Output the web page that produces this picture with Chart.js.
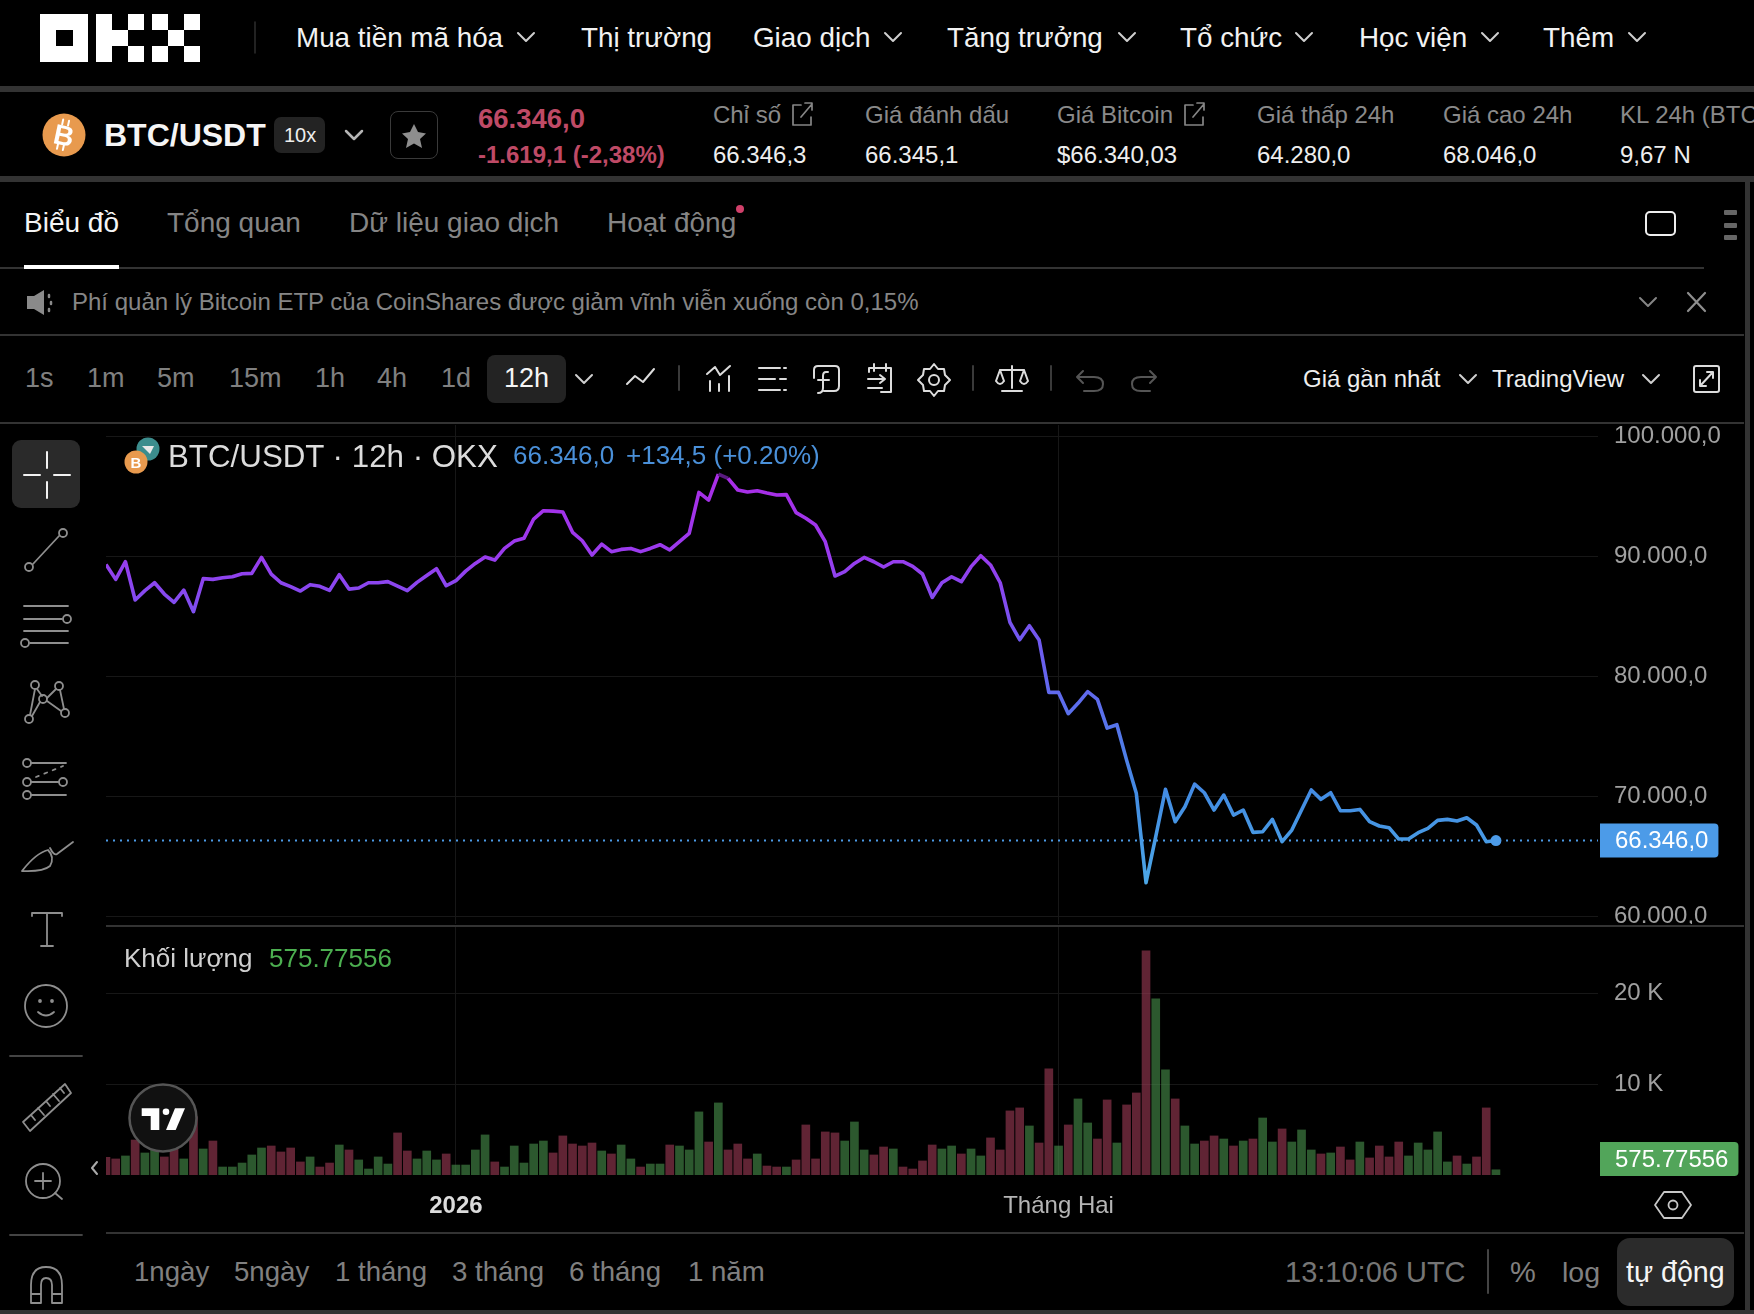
<!DOCTYPE html>
<html lang="vi">
<head>
<meta charset="utf-8">
<title>BTC/USDT</title>
<script src="https://cdn.jsdelivr.net/npm/chart.js@4/dist/chart.umd.min.js"></script>
<style>
  html, body { margin: 0; padding: 0; background: #000; }
  body { position: relative; width: 1754px; height: 1314px; overflow: hidden; font-family: "Liberation Sans", Arial, sans-serif; }
  .t { position: absolute; white-space: nowrap; transform: translateY(-50%); line-height: 1.2; }
  .bar { position: absolute; background: #333; }
  .chip { position: absolute; background: #232323; }
  canvas { position: absolute; }
  svg { position: absolute; left: 0; top: 0; }
  .nav { font-size: 27.8px; color: #f2f2f2; top: 38px; }
  .lbl { font-size: 24px; color: #8a8a8a; top: 115px; }
  .val { font-size: 24px; color: #eee; top: 155px; }
  .tab { font-size: 28px; color: #858585; top: 223px; }
  .res { font-size: 27px; color: #808080; top: 378px; }
  .rng { font-size: 27.6px; color: #808080; top: 1272px; }
</style>
</head>
<body>

<div class="bar" style="left:0;top:86px;width:1754px;height:6px"></div>
<div class="bar" style="left:0;top:176px;width:1754px;height:6px"></div>
<div class="bar" style="left:0;top:267px;width:1704px;height:2px"></div>
<div class="bar" style="left:0;top:334px;width:1744px;height:2px"></div>
<div class="bar" style="left:0;top:422px;width:1744px;height:2px"></div>
<div class="bar" style="left:106px;top:925px;width:1638px;height:2px"></div>
<div class="bar" style="left:106px;top:1232px;width:1638px;height:2px"></div>
<div class="bar" style="left:1745px;top:182px;width:5px;height:1132px"></div>
<div class="bar" style="left:0;top:1310px;width:1754px;height:4px"></div>

<span class="t nav" style="left:296px">Mua tiền mã hóa</span>
<span class="t nav" style="left:581px">Thị trường</span>
<span class="t nav" style="left:753px">Giao dịch</span>
<span class="t nav" style="left:947px">Tăng trưởng</span>
<span class="t nav" style="left:1180px">Tổ chức</span>
<span class="t nav" style="left:1359px">Học viện</span>
<span class="t nav" style="left:1543px">Thêm</span>

<span class="t" style="left:104px;top:135px;font-size:32px;font-weight:700;color:#f5f5f5">BTC/USDT</span>
<div class="chip" style="left:274px;top:117px;width:51px;height:36px;border-radius:7px"></div>
<span class="t" style="left:284px;top:135px;font-size:20px;color:#eee">10x</span>
<div style="position:absolute;left:390px;top:111px;width:46px;height:46px;border:1px solid #3a3a3a;border-radius:8px"></div>
<span class="t" style="left:478px;top:118px;font-size:27.5px;font-weight:700;color:#bf4a66">66.346,0</span>
<span class="t" style="left:478px;top:155px;font-size:24px;font-weight:700;color:#bf4a66">-1.619,1 (-2,38%)</span>

<span class="t lbl" style="left:713px">Chỉ số</span><span class="t val" style="left:713px">66.346,3</span>
<span class="t lbl" style="left:865px">Giá đánh dấu</span><span class="t val" style="left:865px">66.345,1</span>
<span class="t lbl" style="left:1057px">Giá Bitcoin</span><span class="t val" style="left:1057px">$66.340,03</span>
<span class="t lbl" style="left:1257px">Giá thấp 24h</span><span class="t val" style="left:1257px">64.280,0</span>
<span class="t lbl" style="left:1443px">Giá cao 24h</span><span class="t val" style="left:1443px">68.046,0</span>
<span class="t lbl" style="left:1620px">KL 24h (BTC)</span><span class="t val" style="left:1620px">9,67 N</span>

<span class="t tab" style="left:24px;color:#f5f5f5">Biểu đồ</span>
<span class="t tab" style="left:167px">Tổng quan</span>
<span class="t tab" style="left:349px">Dữ liệu giao dịch</span>
<span class="t tab" style="left:607px">Hoạt động</span>
<div style="position:absolute;left:24px;top:265px;width:95px;height:4px;background:#fff"></div>

<span class="t" style="left:72px;top:302px;font-size:24px;color:#868686">Phí quản lý Bitcoin ETP của CoinShares được giảm vĩnh viễn xuống còn 0,15%</span>

<span class="t res" style="left:25px">1s</span>
<span class="t res" style="left:87px">1m</span>
<span class="t res" style="left:157px">5m</span>
<span class="t res" style="left:229px">15m</span>
<span class="t res" style="left:315px">1h</span>
<span class="t res" style="left:377px">4h</span>
<span class="t res" style="left:441px">1d</span>
<div class="chip" style="left:487px;top:355px;width:79px;height:48px;border-radius:8px"></div>
<span class="t res" style="left:504px;color:#f5f5f5">12h</span>
<span class="t" style="left:1303px;top:379px;font-size:24px;color:#eee">Giá gần nhất</span>
<span class="t" style="left:1492px;top:379px;font-size:24px;color:#eee">TradingView</span>

<canvas id="priceChart" width="1638" height="499" style="left:106px;top:425px"></canvas>
<canvas id="volumeChart" width="1638" height="303" style="left:106px;top:927px"></canvas>

<span class="t" style="left:168px;top:457px;font-size:31.3px;color:#dcdcdc">BTC/USDT · 12h · OKX</span>
<span class="t" style="left:513px;top:456px;font-size:26px;color:#4a90d9">66.346,0</span>
<span class="t" style="left:626px;top:456px;font-size:26px;color:#4a90d9">+134,5 (+0.20%)</span>
<span class="t" style="left:124px;top:959px;font-size:26px;color:#cfcfcf">Khối lượng</span>
<span class="t" style="left:269px;top:959px;font-size:26px;color:#4caf50">575.77556</span>

<span class="t rng" style="left:134px">1ngày</span>
<span class="t rng" style="left:234px">5ngày</span>
<span class="t rng" style="left:335px">1 tháng</span>
<span class="t rng" style="left:452px">3 tháng</span>
<span class="t rng" style="left:569px">6 tháng</span>
<span class="t rng" style="left:688px">1 năm</span>
<span class="t" style="left:1285px;top:1272px;font-size:29px;color:#757575">13:10:06 UTC</span>
<span class="t" style="left:1510px;top:1272px;font-size:29px;color:#808080">%</span>
<span class="t" style="left:1562px;top:1272px;font-size:28.5px;color:#808080">log</span>
<div class="chip" style="left:1617px;top:1238px;width:117px;height:68px;border-radius:13px;background:#2b2b2b"></div>
<span class="t" style="left:1626px;top:1272px;font-size:28.6px;color:#f5f5f5">tự động</span>

<svg width="1754" height="1314" viewBox="0 0 1754 1314" fill="none" stroke-linecap="round" stroke-linejoin="round">
  <defs><path id="chev" d="M-8 -4 L0 4 L8 -4"/></defs>

  <!-- logo -->
  <g fill="#fff">
    <path fill-rule="evenodd" d="M40 14H88V62H40Z M56 30V46H73V30Z"/>
    <rect x="96" y="14" width="16" height="48"/><rect x="112" y="30" width="16" height="16"/>
    <rect x="128" y="14" width="16" height="16"/><rect x="128" y="46" width="16" height="16"/>
    <rect x="152" y="14" width="16" height="16"/><rect x="184" y="14" width="16" height="16"/>
    <rect x="168" y="30" width="16" height="16"/>
    <rect x="152" y="46" width="16" height="16"/><rect x="184" y="46" width="16" height="16"/>
  </g>
  <path d="M255 22V53" stroke="#2e2e2e" stroke-width="1.5"/>

  <!-- chevrons -->
  <g stroke="#cfcfcf" stroke-width="2">
    <use href="#chev" x="526" y="37"/><use href="#chev" x="893" y="37"/><use href="#chev" x="1127" y="37"/>
    <use href="#chev" x="1304" y="37"/><use href="#chev" x="1490" y="37"/><use href="#chev" x="1637" y="37"/>
    <use href="#chev" x="354" y="135" stroke="#b5b5b5" stroke-width="2.5"/>
    <use href="#chev" x="584" y="379"/><use href="#chev" x="1468" y="379"/><use href="#chev" x="1651" y="379"/>
    <use href="#chev" x="1648" y="302" stroke="#858585"/>
  </g>

  <!-- coin -->
  <circle cx="64" cy="135" r="21.5" fill="#e89a4e"/>
  <g transform="rotate(12 64 135)">
    <text x="64" y="145" font-size="28" font-weight="700" font-family="Liberation Sans" fill="#fff" text-anchor="middle">B</text>
    <path d="M60 120V125M66 120V125M60 145V150M66 145V150" stroke="#fff" stroke-width="2"/>
  </g>
  <path d="M414 124L418 132L426 133.500L420 139L422 148L414 143.500L406 148L408 139L402 133.500L410 132Z" fill="#8e8e8e"/>

  <!-- external link icons -->
  <g stroke="#858585" stroke-width="1.700">
    <path d="M801 105H793V125H811V117M801 117L812 104M805 103H812V110"/>
    <path d="M1193 105H1185V125H1203V117M1193 117L1204 104M1197 103H1204V110"/>
  </g>

  <!-- tab and announcement icons -->
  <circle cx="740" cy="209" r="4" fill="#d0406a"/>
  <rect x="1646" y="212" width="29" height="23" rx="4" stroke="#eee" stroke-width="2"/>
  <g fill="#666"><rect x="1724" y="210" width="13" height="5" rx="1"/><rect x="1724" y="223" width="13" height="5" rx="1"/><rect x="1724" y="235" width="13" height="5" rx="1"/></g>
  <path d="M27 296H34L44 290V315L34 309H27Z" fill="#8a8a8a"/>
  <path d="M49 295V297M51 302V304M49 309V311" stroke="#8a8a8a" stroke-width="2.500"/>
  <path d="M1688 293L1705 311M1705 293L1688 311" stroke="#8e8e8e" stroke-width="2.200"/>

  <!-- top toolbar icons -->
  <g stroke="#dcdcdc" stroke-width="2">
    <path d="M627 384L635 376L643 382L654 369"/>
    <path d="M679 366V390" stroke="#3a3a3a"/>
    <path d="M707 374L715 367L720 375L730 366M710 391V381M719 391V384M729 391V376"/>
    <path d="M759 368H780M759 379H775M759 390H780M784 368H786M780 379H786M784 390H786"/>
    <path d="M824 391H834Q839 391 839 386V370Q839 366 835 366H818Q814 366 814 370V378M828 372H826Q823 372 823 376V388Q823 393 818 393M818 380H829"/>
    <path d="M869 372V368H891V392H881M874 364V371M886 364V371M868 379H885M880 375L885 379L880 383M868 388H882"/>
    <circle cx="934" cy="380" r="5"/>
    <path d="M934 364L938 369H944L945 375L950 380L945 385L944 391H938L934 396L930 391H924L923 385L918 380L923 375L924 369H930Z"/>
    <path d="M973 366V390" stroke="#3a3a3a"/>
    <path d="M1012 366V388M1002 391H1022M1000 370H1024M1000 370L996 381Q1000 387 1004 381L1000 370M1024 370L1020 381Q1024 387 1028 381L1024 370"/>
    <path d="M1051 366V390" stroke="#3a3a3a"/>
    <g stroke="#555"><path d="M1083 371L1077 377L1083 383M1077 377H1094Q1103 377 1103 384T1094 391H1084"/>
    <path d="M1150 371L1156 377L1150 383M1156 377H1141Q1132 377 1132 384T1141 391H1150"/></g>
    <rect x="1694" y="366" width="25" height="26" rx="2"/>
    <path d="M1700 386L1713 372M1707 372H1713V378M1700 380V386H1706"/>
  </g>

  <!-- left toolbar -->
  <rect x="12" y="440" width="68" height="68" rx="9" fill="#2a2a2a"/>
  <path d="M24 475H40M54 475H70M47 452V468M47 482V498" stroke="#f2f2f2" stroke-width="2"/>
  <g stroke="#8e8e8e" stroke-width="1.800">
    <circle cx="29" cy="567" r="4"/><circle cx="63" cy="533" r="4"/><path d="M33 564L59 536"/>
    <path d="M24 606H68M24 619H62M24 631H68M30 643H68"/><circle cx="67" cy="619" r="4"/><circle cx="25" cy="643" r="4"/>
    <circle cx="35" cy="685" r="4"/><circle cx="59" cy="686" r="4"/><circle cx="43" cy="699" r="4"/><circle cx="29" cy="719" r="4"/><circle cx="65" cy="713" r="4"/>
    <path d="M35 689L30 715M37 689L42 696M47 698L56 689M60 690L64 709M47 701L61 711M40 702L32 716"/>
    <circle cx="27" cy="763" r="4"/><circle cx="27" cy="782" r="4"/><circle cx="63" cy="782" r="4"/><circle cx="27" cy="795" r="4"/>
    <path d="M31 763H66M31 782H59M31 795H66"/><path d="M36 777L63 766" stroke-dasharray="3 6"/>
    <path d="M22 871Q36 853 48 850Q55 857 50 866Q43 872 22 871ZM50 848Q54 856 57 854L73 842"/>
    <path d="M32 913H62M47 913V946M41 946H53M32 913V916M62 913V916"/>
    <circle cx="46" cy="1006" r="21"/><path d="M38 1012Q46 1019 54 1012"/><circle cx="40" cy="1001" r="1" fill="#8e8e8e"/><circle cx="52" cy="1001" r="1" fill="#8e8e8e"/>
    <path d="M10 1056H82M10 1235H82" stroke="#444"/>
    <path d="M23 1122L65 1084L71 1093L30 1131ZM31 1115L35 1120M38 1108L44 1115M46 1101L50 1106M53 1094L59 1101M60 1088L64 1093"/>
    <circle cx="43" cy="1181" r="17"/><path d="M35 1181H51M43 1173V1189M55 1193L62 1199"/>
    <path d="M31 1303V1285Q31 1267 46 1267Q62 1267 62 1285V1303H52V1285Q52 1278 46 1278Q41 1278 41 1285V1303ZM31 1294H41M52 1294H62"/>
  </g>

  <!-- legend icons -->
  <circle cx="148" cy="449" r="11.500" fill="#3c8d8d"/>
  <path d="M142 446H154L150 454Z" fill="#e8e8e8"/>
  <circle cx="136" cy="462" r="11.500" fill="#e89a4e"/>
  <text x="136" y="468" font-size="15" font-weight="700" font-family="Liberation Sans" fill="#fff" text-anchor="middle">B</text>

  <!-- tradingview badge -->
  <circle cx="163" cy="1118" r="33.500" fill="#111" stroke="#555" stroke-width="2.500"/>
  <path d="M141.700 1108.300H159.300V1130H150.700V1116H141.700Z" fill="#fff"/>
  <path d="M175 1108.300H185L175.700 1130H166Z" fill="#fff"/>
  <circle cx="166" cy="1111.700" r="3.300" fill="#fff"/>
  <path d="M97 1162L92 1168L97 1174" stroke="#aaa" stroke-width="2"/>

  <!-- bottom bits -->
  <path d="M1664 1192H1682L1691 1205L1682 1218H1664L1655 1205Z" stroke="#c8c8c8" stroke-width="1.800"/>
  <circle cx="1673" cy="1205" r="4.500" stroke="#c8c8c8" stroke-width="1.800"/>
  <path d="M1488 1250V1293" stroke="#444" stroke-width="2"/>
</svg>

<script>
// half-day closes
const prices = [
  89360, 88110, 89580, 86390, 87170, 87830, 86890, 86190, 87220, 85420,
  88170, 88110, 88250, 88330, 88580, 88610, 89940, 88550, 87830, 87500,
  87140, 87670, 87530, 87190, 88500, 87300, 87390, 87830, 87830, 87920,
  87550, 87170, 87860, 88440, 89000, 87580, 88000, 88800, 89440, 89970,
  89720, 90690, 91300, 91530, 93140, 93830, 93800, 93720, 92030, 91330,
  90140, 91050, 90420, 90610, 90690, 90420, 90690, 91000, 90560, 91250,
  91950, 95360, 94720, 96890, 96530, 95560, 95390, 95500, 95310, 95140,
  95170, 93670, 93200, 92640, 91250, 88390, 88750, 89440, 89940, 89580,
  89140, 89580, 89580, 89190, 88560, 86610, 87830, 88330, 87920, 89170,
  90080, 89310, 87830, 84530, 83080, 84250, 83060, 78690, 78690, 76920,
  77780, 78750, 78110, 75720, 76000, 73050, 70280, 62830, 66670, 70610,
  67920, 69170, 71050, 70330, 68890, 70140, 68470, 68890, 67030, 67080,
  68110, 66250, 67220, 68890, 70560, 69780, 70330, 68830, 68830, 68940,
  67920, 67560, 67420, 66470, 66470, 67000, 67360, 68030, 68110, 67970,
  68250, 67640, 66250, 66346
]
const volumes = [
  1950, 1770, 2100, 3860, 2430, 3500, 1990, 3310, 1770, 6440,
  2870, 3750, 880, 880, 1320, 2210, 2980, 3200, 2540, 2980,
  1440, 1990, 880, 1320, 3310, 2760, 1660, 660, 1990, 1210,
  4640, 2650, 1770, 2650, 1660, 2320, 1100, 1100, 2760, 4420,
  1440, 880, 3200, 1320, 3420, 3750, 2430, 4310, 3420, 3200,
  3530, 2650, 2320, 3310, 1770, 880, 1210, 1210, 3310, 3200,
  2760, 6960, 3640, 7950, 2760, 3420, 1770, 2320, 990, 880,
  880, 1660, 5520, 1770, 4750, 4640, 3750, 5850, 2760, 2210,
  3090, 2870, 880, 660, 1550, 3310, 2870, 3200, 2320, 2870,
  2100, 4090, 2760, 7070, 7400, 5410, 3530, 11700, 3200, 5520,
  8390, 5740, 3970, 8280, 3530, 7730, 9050, 24730, 19430, 11590,
  8390, 5410, 3420, 3750, 4310, 3970, 3200, 3750, 3970, 6290,
  3640, 5080, 3640, 4970, 2760, 2320, 2430, 3090, 1660, 3640,
  1880, 3200, 1990, 3640, 2100, 3530, 2760, 4750, 1440, 2100,
  1210, 1990, 7400, 575.77556
]
// 1 = green bar, 0 = red bar
const volumeUp = [
  0, 0, 1, 0, 1, 1, 0, 0, 1, 0, 1, 0, 1, 1, 1, 1, 1, 0, 0, 0,
  0, 1, 0, 0, 1, 0, 1, 1, 1, 1, 0, 0, 1, 1, 1, 0, 1, 1, 1, 1,
  0, 1, 1, 1, 1, 1, 0, 0, 0, 0, 0, 1, 0, 1, 1, 0, 1, 1, 0, 1,
  1, 1, 0, 1, 0, 0, 0, 1, 0, 0, 1, 0, 0, 0, 0, 0, 1, 1, 1, 0,
  0, 1, 0, 0, 0, 0, 1, 1, 0, 1, 1, 0, 0, 0, 0, 1, 0, 0, 1, 0,
  1, 1, 0, 0, 1, 0, 0, 0, 1, 1, 0, 1, 1, 0, 0, 1, 0, 1, 0, 1,
  1, 0, 1, 1, 1, 0, 1, 0, 0, 1, 0, 0, 0, 0, 1, 1, 1, 1, 1, 0,
  1, 0, 0, 1
]
const priceTicks = [100000, 90000, 80000, 70000, 60000]
const priceTickLabels = ['100.000,0', '90.000,0', '80.000,0', '70.000,0', '60.000,0']
const volumeTicks = [20000, 10000]
const volumeTickLabels = ['20 K', '10 K']
const monthTickIndex = [36, 98]
const monthTickLabels = ['2026', 'Tháng Hai']
const lastPrice = 66346
const lastPriceLabel = '66.346,0'
const lastVolumeLabel = '575.77556'

Chart.defaults.font.family = '"Liberation Sans", Arial, sans-serif'

const gridColor = '#171717'
const axisWidth = 146
const xMax = 153.5
const lastIndex = prices.length - 1
const fadedSegment = 63  // legend backdrop dims the line at the high

// stop the scales reserving room for labels that overhang the plot
const noScalePadding = s => {
  s.paddingLeft = s.paddingRight = s.paddingTop = s.paddingBottom = 0
}

const xScale = showLabels => ({
  type: 'linear',
  min: 0,
  max: xMax,
  offset: false,
  afterBuildTicks: s => { s.ticks = monthTickIndex.map(v => ({ value: v })) },
  afterFit: s => { s.height = showLabels ? 55 : 0; noScalePadding(s) },
  border: { display: false },
  grid: { color: gridColor, drawTicks: false, offset: false },
  ticks: {
    display: showLabels,
    autoSkip: false,
    maxRotation: 0,
    padding: 17,
    color: ctx => ctx.index === 0 ? '#dcdcdc' : '#b5b5b5',
    font: ctx => ({ size: 24, weight: ctx.index === 0 ? '700' : '400' }),
    callback: (v, i) => monthTickLabels[i]
  }
})

const yScale = (min, max, values, labels) => ({
  position: 'right',
  min,
  max,
  afterBuildTicks: s => { s.ticks = values.map(v => ({ value: v })) },
  afterFit: s => { s.width = axisWidth; noScalePadding(s) },
  border: { display: false },
  grid: { color: gridColor, drawTicks: false },
  ticks: {
    padding: 16,
    color: '#a0a0a0',
    font: { size: 24 },
    callback: (v, i) => labels[i]
  }
})

// value tag sitting in the axis gutter
const valueTag = (value, label, color) => ({
  id: 'valueTag',
  afterDraw(chart) {
    const { ctx, chartArea, scales } = chart
    const y = Math.min(scales.y.getPixelForValue(value), chartArea.bottom - 16)
    ctx.save()
    ctx.font = '24px "Liberation Sans", Arial, sans-serif'
    const w = ctx.measureText(label).width + 25
    ctx.fillStyle = color
    ctx.beginPath()
    ctx.roundRect(chartArea.right + 2, y - 17, w, 34, [0, 4, 4, 0])
    ctx.fill()
    ctx.fillStyle = '#fff'
    ctx.textBaseline = 'middle'
    ctx.fillText(label, chartArea.right + 17, y + 1)
    ctx.restore()
  }
})

const lineGradient = chart => {
  const { ctx, chartArea, scales } = chart
  if (!chartArea) return '#9a3bee'
  const g = ctx.createLinearGradient(0, scales.y.getPixelForValue(97000), 0, scales.y.getPixelForValue(63000))
  g.addColorStop(0, '#aa2ce6')
  g.addColorStop(0.2, '#9a3bee')
  g.addColorStop(0.41, '#7059f0')
  g.addColorStop(0.59, '#5a70ec')
  g.addColorStop(0.79, '#438de3')
  g.addColorStop(1, '#4ca6e6')
  return g
}

new Chart(document.getElementById('priceChart'), {
  type: 'line',
  data: {
    datasets: [{
      data: prices.map((v, i) => ({ x: i, y: v })),
      borderColor: ctx => lineGradient(ctx.chart),
      borderWidth: 3.6,
      borderJoinStyle: 'round',
      tension: 0,
      pointRadius: ctx => ctx.dataIndex === lastIndex ? 5.5 : 0,
      pointBackgroundColor: '#4c9be8',
      pointBorderWidth: 0,
      segment: { borderColor: ctx => ctx.p0DataIndex === fadedSegment ? '#5a1a80' : undefined }
    }, {
      data: [{ x: 0, y: lastPrice }, { x: xMax, y: lastPrice }],
      borderColor: '#4c9be8',
      borderWidth: 2,
      borderDash: [2, 5],
      pointRadius: 0
    }]
  },
  options: {
    responsive: false,
    animation: false,
    events: [],
    layout: { padding: 0, autoPadding: false },
    plugins: { legend: { display: false }, tooltip: { enabled: false } },
    scales: { x: xScale(false), y: yScale(59392, 100975, priceTicks, priceTickLabels) }
  },
  plugins: [valueTag(lastPrice, lastPriceLabel, '#4c9be8')]
})

new Chart(document.getElementById('volumeChart'), {
  type: 'bar',
  data: {
    datasets: [{
      data: volumes.map((v, i) => ({ x: i, y: v })),
      backgroundColor: volumeUp.map(up => up ? 'rgba(73,147,77,0.6)' : 'rgba(160,60,87,0.6)'),
      barThickness: 8,
      borderWidth: 0
    }]
  },
  options: {
    responsive: false,
    animation: false,
    events: [],
    layout: { padding: 0, autoPadding: false },
    plugins: { legend: { display: false }, tooltip: { enabled: false } },
    scales: { x: xScale(true), y: yScale(0, 27358, volumeTicks, volumeTickLabels) }
  },
  plugins: [valueTag(volumes[lastIndex], lastVolumeLabel, '#52a55a')]
})
</script>
</body>
</html>
